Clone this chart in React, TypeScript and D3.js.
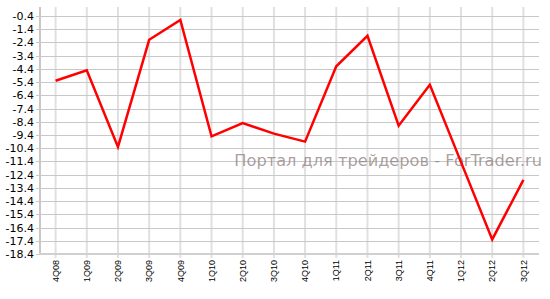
import React from "react";
import * as d3 from "d3";

const categories = ["4Q08","1Q09","2Q09","3Q09","4Q09","1Q10","2Q10","3Q10","4Q10","1Q11","2Q11","3Q11","4Q11","1Q12","2Q12","3Q12"];
const values = [-5.3,-4.5,-10.3,-2.2,-0.7,-9.5,-8.5,-9.3,-9.9,-4.2,-1.9,-8.7,-5.6,-11.45,-17.3,-12.8];
const yTicks = d3.range(0, 19).map((k) => -18.4 + k);
const watermark = "Портал для трейдеров - ForTrader.ru";

const W = 550, H = 299;
const left = 40, right = 539, top = 7, bottom = 254;

export default function App() {
  const x = d3.scaleBand<string>().domain(categories).range([left, right]);
  const cx = (c: string) => (x(c) as number) + x.bandwidth() / 2;
  const y = d3.scaleLinear().domain([-18.4, 0.28]).range([bottom, top]);
  const line = d3.line<number>().x((_, i) => cx(categories[i])).y((v) => y(v));
  return (
    <svg width={W} height={H} style={{ position: "absolute", left: 0, top: 0, background: "#fff" }}>
      <rect width={W} height={H} fill="#fff" />
      {categories.map((c) => (
        <line key={"v" + c} x1={cx(c)} x2={cx(c)} y1={top} y2={bottom + 4} stroke="#e0e0e0" strokeWidth={2} />
      ))}
      {yTicks.map((t) => (
        <line key={"h" + t} x1={left - 4} x2={right} y1={Math.round(y(t)) + 0.5} y2={Math.round(y(t)) + 0.5} stroke="#c8c8c8" strokeWidth={1} />
      ))}
      <line x1={left} x2={left} y1={top} y2={bottom + 1} stroke="#c8c8c8" strokeWidth={2} />
      <line x1={left - 1} x2={right} y1={bottom} y2={bottom} stroke="#d0d0d0" strokeWidth={2} />
      <text x={542} y={166} textAnchor="end" fontFamily="DejaVu Sans" fontSize={16.2} fill="#907f7f" fillOpacity={0.75}>{watermark}</text>
      {yTicks.map((t) => (
        <text key={"t" + t} x={34} y={y(t) + 4} textAnchor="end" fontFamily="DejaVu Sans" fontSize={11} fill="#000">{t.toFixed(1)}</text>
      ))}
      {categories.map((c) => (
        <text key={"x" + c} transform={`translate(${cx(c) + 3.2},260) rotate(-90)`} textAnchor="end" fontFamily="Liberation Sans" fontSize={9} fill="#000">{c}</text>
      ))}
      <path d={line(values) as string} fill="none" stroke="#ff0000" strokeWidth={2.5} strokeLinejoin="miter" />
    </svg>
  );
}
